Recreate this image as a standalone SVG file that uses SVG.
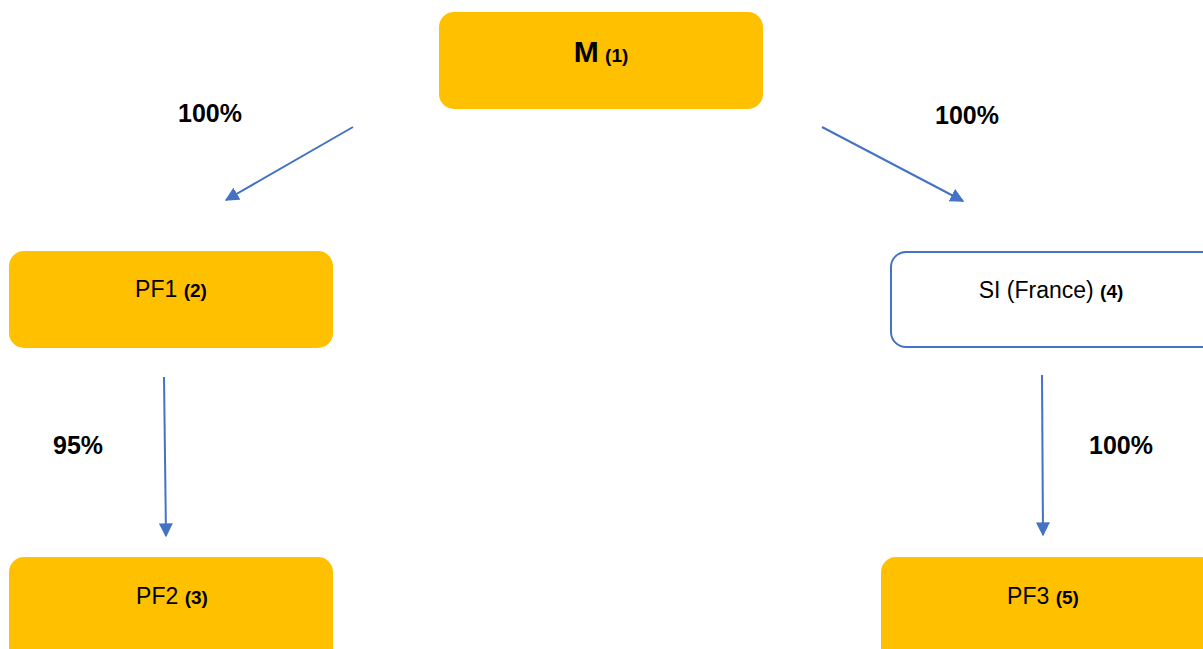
<svg xmlns="http://www.w3.org/2000/svg" width="1203" height="649" viewBox="0 0 1203 649">
  <style>
    .box { fill: #FFC000; }
    .outline { fill: #FFFFFF; stroke: #4472C4; stroke-width: 2; }
    .lbl { font-family: "Liberation Sans", Arial, sans-serif; font-size: 23px; fill: #000; text-anchor: middle; }
    .num { font-weight: bold; font-size: 19px; }
    .pct { font-family: "Liberation Sans", Arial, sans-serif; font-size: 25px; font-weight: bold; fill: #000; }
    .conn { stroke: #4472C4; stroke-width: 2; fill: none; marker-end: url(#arrow); }
  </style>
  <defs>
    <marker id="arrow" viewBox="0 0 10 10" refX="9" refY="5" markerWidth="7" markerHeight="7" markerUnits="strokeWidth" orient="auto">
      <path d="M0,0 L10,5 L0,10 Z" fill="#4472C4"/>
    </marker>
  </defs>
  <rect width="1203" height="649" fill="#FFFFFF"/>

  <g id="node-m">
    <rect class="box" x="439" y="12" width="324" height="97" rx="15"/>
    <text class="lbl" x="601" y="62"><tspan font-weight="bold" font-size="30">M</tspan> <tspan class="num">(1)</tspan></text>
  </g>
  <g id="node-pf1">
    <rect class="box" x="9" y="251" width="324" height="97" rx="15"/>
    <text class="lbl" x="171" y="297">PF1 <tspan class="num">(2)</tspan></text>
  </g>
  <g id="node-si">
    <rect class="outline" x="891" y="252" width="330" height="95" rx="15"/>
    <text class="lbl" x="1051" y="298">SI (France) <tspan class="num">(4)</tspan></text>
  </g>
  <g id="node-pf2">
    <rect class="box" x="9" y="557" width="324" height="110" rx="15"/>
    <text class="lbl" x="172" y="604">PF2 <tspan class="num">(3)</tspan></text>
  </g>
  <g id="node-pf3">
    <rect class="box" x="881" y="557" width="340" height="110" rx="15"/>
    <text class="lbl" x="1043" y="604">PF3 <tspan class="num">(5)</tspan></text>
  </g>

  <g id="connectors">
    <line class="conn" x1="353" y1="127" x2="226" y2="200"/>
    <line class="conn" x1="822" y1="127" x2="963" y2="201"/>
    <line class="conn" x1="164" y1="377" x2="166" y2="536"/>
    <line class="conn" x1="1042" y1="375" x2="1043" y2="535"/>
  </g>

  <g id="labels">
    <text class="pct" x="178" y="122">100%</text>
    <text class="pct" x="935" y="124">100%</text>
    <text class="pct" x="53" y="454">95%</text>
    <text class="pct" x="1089" y="454">100%</text>
  </g>
</svg>
